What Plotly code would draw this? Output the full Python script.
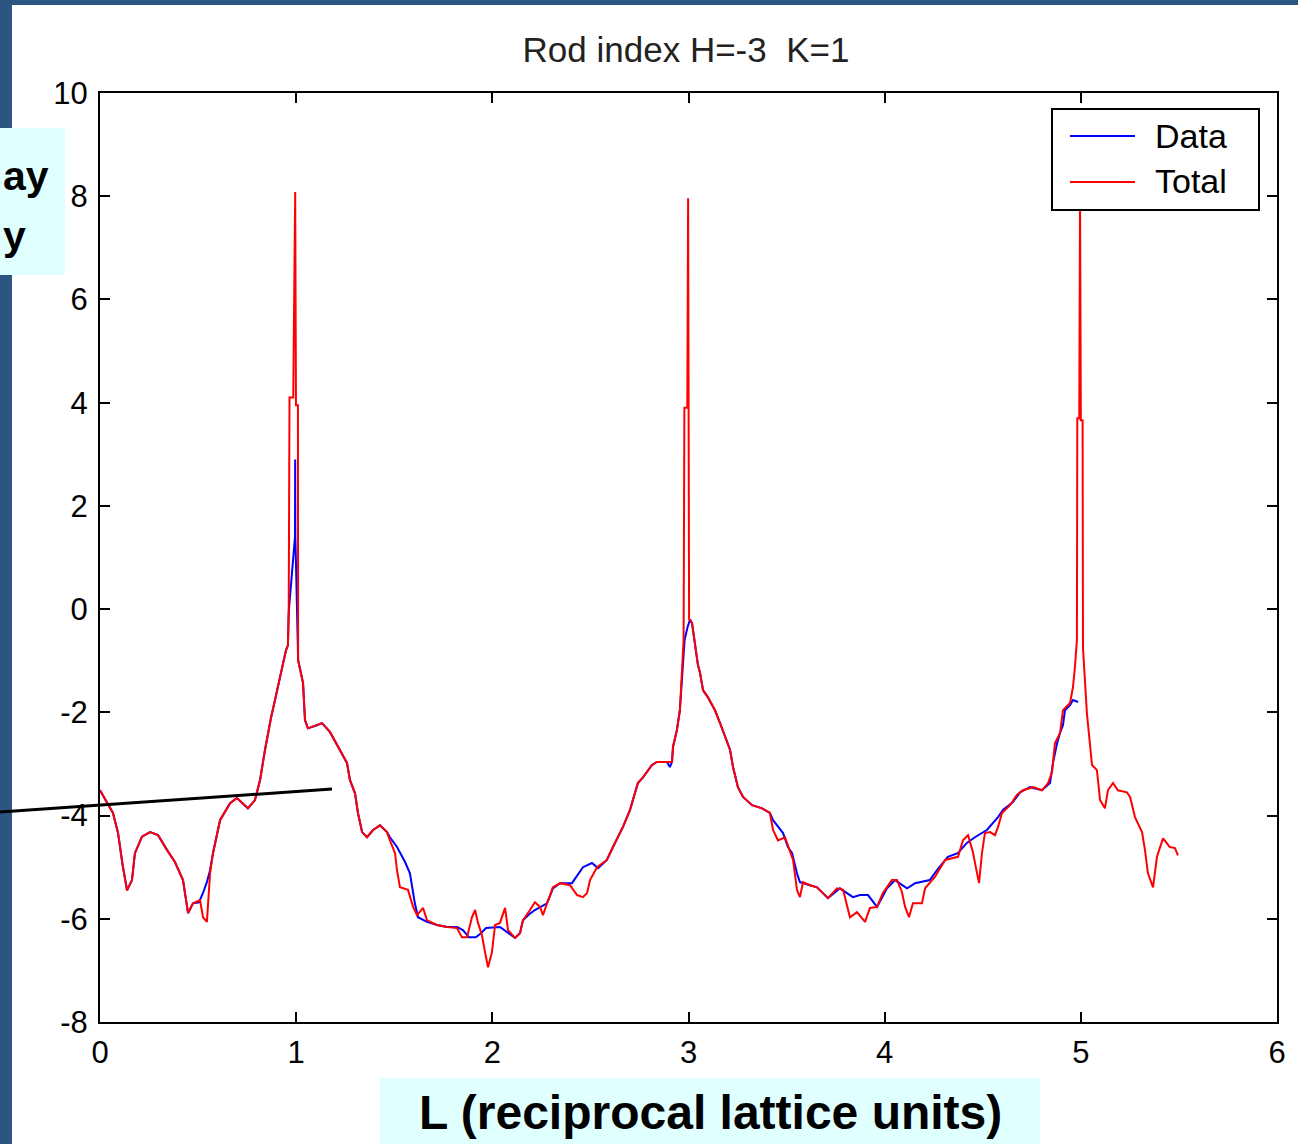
import plotly.graph_objects as go

# ---------------- data ----------------
L_total = [0.000, 0.030, 0.066, 0.092, 0.115, 0.138, 0.150, 0.163, 0.178, 0.214, 0.255, 0.296, 0.342, 0.382,
           0.423, 0.449, 0.474, 0.510, 0.525, 0.545, 0.561, 0.576, 0.612, 0.663, 0.698, 0.754, 0.790, 0.816,
           0.841, 0.856, 0.872, 0.887, 0.902, 0.918, 0.933, 0.948, 0.958, 0.962,
           0.966, 0.985, 0.995, 0.999, 1.009, 1.010, 1.035, 1.045, 1.060, 1.106, 1.132, 1.172, 1.223, 1.259,
           1.274, 1.300, 1.315, 1.336, 1.361, 1.392, 1.427, 1.463, 1.478, 1.504, 1.514, 1.529, 1.570, 1.596,
           1.616, 1.647, 1.667, 1.718, 1.769, 1.820, 1.845, 1.871, 1.896, 1.912, 1.927, 1.947, 1.963, 1.978,
           1.998, 2.014, 2.039, 2.065, 2.080, 2.116, 2.141, 2.156, 2.192, 2.217, 2.243, 2.258, 2.279, 2.309,
           2.345, 2.396, 2.432, 2.462, 2.483, 2.498, 2.534, 2.584, 2.615, 2.666, 2.702, 2.742, 2.768, 2.814,
           2.839, 2.890, 2.916, 2.921, 2.941, 2.956, 2.967, 2.975,
           2.979, 2.994, 2.998, 3.003, 3.018, 3.033, 3.048, 3.059, 3.074, 3.099, 3.135, 3.161, 3.186, 3.212,
           3.227, 3.252, 3.278, 3.324, 3.375, 3.415, 3.431, 3.456, 3.492, 3.517, 3.533, 3.553, 3.568, 3.584,
           3.619, 3.655, 3.711, 3.757, 3.788, 3.823, 3.859, 3.900, 3.925, 3.961, 3.991, 4.037, 4.063, 4.088,
           4.104, 4.124, 4.144, 4.190, 4.206, 4.256, 4.308, 4.374, 4.399, 4.425, 4.450, 4.471, 4.481, 4.496,
           4.511, 4.537, 4.562, 4.578, 4.598, 4.639, 4.674, 4.705, 4.756, 4.802, 4.833, 4.853, 4.868, 4.894,
           4.909, 4.945, 4.960, 4.970, 4.980,
           4.982, 4.992, 4.996, 5.000, 5.009, 5.011, 5.031, 5.047, 5.057, 5.082, 5.098, 5.123, 5.138, 5.164,
           5.189, 5.235, 5.251, 5.276, 5.312, 5.327, 5.342, 5.368, 5.388, 5.419, 5.454, 5.480, 5.495]
total_vals = [-3.51, -3.70, -3.95, -4.34, -4.95, -5.45, -5.35, -5.25, -4.73, -4.41, -4.32, -4.38, -4.67, -4.90,
              -5.25, -5.89, -5.70, -5.64, -5.97, -6.06, -5.12, -4.73, -4.09, -3.76, -3.66, -3.86, -3.70, -3.31,
              -2.73, -2.40, -2.10, -1.85, -1.60, -1.28, -1.05, -0.80, -0.70, -0.06,
              4.10, 4.10, 8.08, 3.95, 3.95, -0.99, -1.43, -2.15, -2.31, -2.25, -2.21, -2.38, -2.73, -2.98,
              -3.31, -3.57, -3.95, -4.32, -4.42, -4.28, -4.19, -4.32, -4.48, -4.73, -5.06, -5.39, -5.44, -5.77,
              -5.93, -5.79, -6.03, -6.12, -6.16, -6.18, -6.36, -6.36, -5.97, -5.83, -6.08, -6.32, -6.65, -6.94,
              -6.65, -6.12, -6.08, -5.79, -6.22, -6.37, -6.28, -6.03, -5.83, -5.68, -5.77, -5.93, -5.70, -5.39,
              -5.31, -5.35, -5.54, -5.58, -5.50, -5.25, -5.00, -4.86, -4.61, -4.22, -3.89, -3.37, -3.26, -3.02,
              -2.96, -2.96, -2.96, -2.67, -2.34, -1.96, -1.24, -0.60,
              3.90, 3.90, 7.96, -0.20, -0.27, -0.68, -1.08, -1.24, -1.57, -1.71, -1.96, -2.21, -2.48, -2.73,
              -3.06, -3.45, -3.64, -3.80, -3.86, -3.95, -4.28, -4.48, -4.42, -4.67, -4.86, -5.44, -5.58, -5.29,
              -5.35, -5.39, -5.60, -5.41, -5.44, -5.97, -5.87, -6.06, -5.79, -5.77, -5.50, -5.25, -5.25, -5.48,
              -5.77, -5.97, -5.70, -5.70, -5.41, -5.19, -4.86, -4.80, -4.48, -4.38, -4.71, -5.12, -5.31, -4.73,
              -4.34, -4.32, -4.38, -4.22, -3.95, -3.80, -3.60, -3.51, -3.45, -3.51, -3.37, -3.16, -2.60, -2.40,
              -1.96, -1.82, -1.51, -1.12, -0.60,
              3.70, 3.70, 8.00, 3.66, 3.66, -0.76, -2.02, -2.67, -3.02, -3.12, -3.70, -3.86, -3.51, -3.37,
              -3.51, -3.55, -3.64, -4.03, -4.32, -4.67, -5.12, -5.39, -4.80, -4.44, -4.61, -4.63, -4.77]

L_data = [0.000, 0.030, 0.066, 0.092, 0.115, 0.138, 0.150, 0.163, 0.178, 0.214, 0.255, 0.296, 0.342, 0.382,
          0.423, 0.449, 0.474, 0.505, 0.525, 0.545, 0.561, 0.576, 0.612, 0.663, 0.698, 0.754, 0.790, 0.816,
          0.841, 0.856, 0.872, 0.887, 0.902, 0.918, 0.933, 0.948, 0.958, 0.962,
          0.994, 0.995, 0.996, 1.010, 1.035, 1.045, 1.060, 1.106, 1.132, 1.172, 1.223, 1.259,
          1.274, 1.300, 1.315, 1.336, 1.361, 1.392, 1.427, 1.463, 1.478, 1.514, 1.555, 1.580, 1.590, 1.605,
          1.621, 1.667, 1.718, 1.769, 1.820, 1.850, 1.881, 1.916, 1.942, 1.968, 2.039, 2.075, 2.116, 2.141,
          2.156, 2.192, 2.217, 2.279, 2.309, 2.345, 2.406, 2.462, 2.508, 2.539, 2.584, 2.615, 2.666, 2.702,
          2.742, 2.768, 2.814, 2.839, 2.890, 2.905, 2.916, 2.921, 2.941, 2.956, 2.967, 2.980, 2.995, 3.008,
          3.018, 3.033, 3.048, 3.059, 3.074, 3.099, 3.135, 3.161, 3.186, 3.212,
          3.227, 3.252, 3.278, 3.324, 3.375, 3.415, 3.431, 3.482, 3.507, 3.528, 3.553, 3.568, 3.619, 3.655,
          3.711, 3.772, 3.838, 3.874, 3.915, 3.961, 4.012, 4.053, 4.114, 4.155, 4.230, 4.266, 4.322, 4.373,
          4.419, 4.460, 4.521, 4.578, 4.603, 4.654, 4.690, 4.741, 4.802, 4.843, 4.858, 4.879, 4.894, 4.909,
          4.919, 4.945, 4.960, 4.986]
data_vals = [-3.51, -3.70, -3.95, -4.34, -4.95, -5.45, -5.35, -5.25, -4.73, -4.41, -4.32, -4.38, -4.67, -4.90,
             -5.25, -5.89, -5.70, -5.68, -5.50, -5.29, -5.06, -4.73, -4.09, -3.76, -3.66, -3.86, -3.70, -3.31,
             -2.73, -2.40, -2.10, -1.85, -1.60, -1.28, -1.05, -0.80, -0.70, -0.06,
             1.40, 2.90, 1.40, -0.99, -1.43, -2.15, -2.31, -2.25, -2.21, -2.38, -2.73, -2.98,
             -3.31, -3.57, -3.95, -4.32, -4.42, -4.28, -4.19, -4.32, -4.42, -4.61, -4.90, -5.12, -5.35, -5.70,
             -5.97, -6.06, -6.12, -6.16, -6.16, -6.22, -6.36, -6.36, -6.28, -6.18, -6.16, -6.26, -6.37, -6.28,
             -6.03, -5.90, -5.83, -5.70, -5.41, -5.31, -5.31, -5.00, -4.92, -5.02, -4.86, -4.61, -4.22, -3.89,
             -3.37, -3.26, -3.02, -2.96, -2.96, -3.06, -2.96, -2.67, -2.34, -1.96, -1.24, -0.60, -0.35, -0.20,
             -0.27, -0.68, -1.08, -1.24, -1.57, -1.71, -1.96, -2.21, -2.48, -2.73,
             -3.06, -3.45, -3.64, -3.80, -3.86, -3.95, -4.09, -4.34, -4.61, -4.73, -5.12, -5.29, -5.35, -5.39,
             -5.60, -5.41, -5.58, -5.54, -5.54, -5.77, -5.41, -5.25, -5.41, -5.31, -5.25, -5.06, -4.80, -4.73,
             -4.53, -4.42, -4.28, -4.03, -3.89, -3.74, -3.55, -3.45, -3.51, -3.37, -2.98, -2.60, -2.40, -2.25,
             -1.96, -1.86, -1.76, -1.80]

x_ticks = [0, 1, 2, 3, 4, 5, 6]
y_ticks = [-8, -6, -4, -2, 0, 2, 4, 6, 8, 10]
title_text = "Rod index H=-3  K=1"
legend_names = ["Data", "Total"]
xlabel_text = "L (reciprocal lattice units)"
side_text = ["ay", "y"]

# ---------------- layout geometry (pixels) ----------------
W, H = 1298, 1144
ML, MR, MT, MB = 100, 21, 93, 122
PW, PH = W - ML - MR, H - MT - MB


def px(x):
    return (x - ML) / PW


def py(y):
    return (H - MB - y) / PH


FONT = "Liberation Sans, Arial, Helvetica, sans-serif"
SLIDE_BLUE = "#2c5582"
CYAN = "#e0ffff"

fig = go.Figure()
fig.add_trace(go.Scatter(x=L_data, y=data_vals, mode="lines", name=legend_names[0],
                         line=dict(color="#0000ff", width=2), showlegend=False))
fig.add_trace(go.Scatter(x=L_total, y=total_vals, mode="lines", name=legend_names[1],
                         line=dict(color="#ff0000", width=2), showlegend=False))

axis_common = dict(showline=True, linewidth=2, linecolor="black", mirror="ticks",
                   ticks="inside", ticklen=10, tickwidth=2, tickcolor="black",
                   showgrid=False, zeroline=False,
                   tickfont=dict(family=FONT, size=31, color="black"))
fig.update_xaxes(range=[0, 6], tickvals=x_ticks, ticktext=[str(v) for v in x_ticks],
                 ticklabelstandoff=2, **axis_common)
fig.update_yaxes(range=[-8, 10], tickvals=y_ticks, ticktext=[str(v) for v in y_ticks],
                 ticklabelstandoff=4, **axis_common)

shapes = []
# slide frame (dark blue strips)
shapes.append(dict(type="rect", xref="paper", yref="paper", x0=px(0), x1=px(12), y0=py(H), y1=py(0),
                   fillcolor=SLIDE_BLUE, line=dict(width=0), layer="below"))
shapes.append(dict(type="rect", xref="paper", yref="paper", x0=px(0), x1=px(W), y0=py(5), y1=py(0),
                   fillcolor=SLIDE_BLUE, line=dict(width=0), layer="below"))
# cyan text boxes
shapes.append(dict(type="rect", xref="paper", yref="paper", x0=px(0), x1=px(65), y0=py(275), y1=py(128),
                   fillcolor=CYAN, line=dict(width=0), layer="above"))
shapes.append(dict(type="rect", xref="paper", yref="paper", x0=px(380), x1=px(1040), y0=py(H), y1=py(1078),
                   fillcolor=CYAN, line=dict(width=0), layer="above"))
# pointer line
shapes.append(dict(type="line", xref="paper", yref="paper", x0=px(0), y0=py(812), x1=px(332), y1=py(789),
                   line=dict(color="black", width=3), layer="above"))
# legend box
shapes.append(dict(type="rect", xref="paper", yref="paper", x0=px(1052), x1=px(1259), y0=py(210), y1=py(109),
                   fillcolor="white", line=dict(color="black", width=2), layer="above"))
shapes.append(dict(type="line", xref="paper", yref="paper", x0=px(1070), x1=px(1135), y0=py(136), y1=py(136),
                   line=dict(color="#0000ff", width=2), layer="above"))
shapes.append(dict(type="line", xref="paper", yref="paper", x0=px(1070), x1=px(1135), y0=py(182), y1=py(182),
                   line=dict(color="#ff0000", width=2), layer="above"))

annotations = [
    dict(text=legend_names[0], xref="paper", yref="paper", x=px(1153), y=py(136), xanchor="left",
         yanchor="middle", showarrow=False, font=dict(family=FONT, size=34, color="black")),
    dict(text=legend_names[1], xref="paper", yref="paper", x=px(1153), y=py(181), xanchor="left",
         yanchor="middle", showarrow=False, font=dict(family=FONT, size=34, color="black")),
    dict(text="<b>" + side_text[0] + "</b>", xref="paper", yref="paper", x=px(1), y=py(176), xanchor="left",
         yanchor="middle", showarrow=False, font=dict(family=FONT, size=41, color="black")),
    dict(text="<b>" + side_text[1] + "</b>", xref="paper", yref="paper", x=px(1), y=py(236), xanchor="left",
         yanchor="middle", showarrow=False, font=dict(family=FONT, size=41, color="black")),
    dict(text="<b>" + xlabel_text + "</b>", xref="paper", yref="paper", x=px(710), y=py(1112),
         xanchor="center", yanchor="middle", showarrow=False, font=dict(family=FONT, size=48, color="black")),
]

fig.update_layout(
    width=W, height=H,
    margin=dict(l=ML, r=MR, t=MT, b=MB, autoexpand=False),
    paper_bgcolor="white", plot_bgcolor="white",
    title=dict(text=title_text, x=px(686), xref="paper", xanchor="center",
               y=1 - 50 / H, yref="container", yanchor="middle",
               font=dict(family=FONT, size=35, color="#222222")),
    shapes=shapes, annotations=annotations, showlegend=False,
)

fig.write_html("out.html")
